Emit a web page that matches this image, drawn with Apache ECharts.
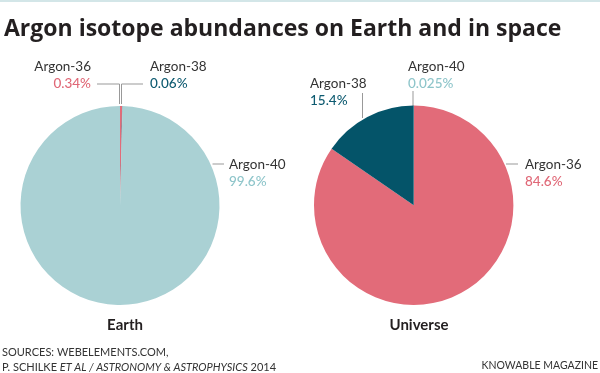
<!DOCTYPE html>
<html><head><meta charset="utf-8">
<script src="https://cdn.jsdelivr.net/npm/echarts@6/dist/echarts.min.js"></script>
<style>html,body{margin:0;padding:0;background:#fff}#c{width:600px;height:373px}</style>
</head><body><div id="c"></div>
<script>
const titleText = 'Argon isotope abundances on Earth and in space';
const pieTitles = ['Earth', 'Universe'];
const earthNames = ['Argon-36', 'Argon-38', 'Argon-40'];
const earthValues = [0.34, 0.06, 99.6];
const earthLabels = ['0.34%', '0.06%', '99.6%'];
const universeNames = ['Argon-40', 'Argon-36', 'Argon-38'];
const universeValues = [0.025, 84.6, 15.4];
const universeLabels = ['0.025%', '84.6%', '15.4%'];
const sourceLines = ['SOURCES: WEBELEMENTS.COM,', 'P. SCHILKE {i|ET AL / ASTRONOMY & ASTROPHYSICS} 2014'];
const creditText = 'KNOWABLE MAGAZINE';

const FONT = 'Lato';
const TFONT = 'Open Sans';
const fill = { 'Argon-36': '#e26b79', 'Argon-38': '#045469', 'Argon-40': '#aad1d4' };
const valColor = { 'Argon-36': '#e06877', 'Argon-38': '#0d5a70', 'Argon-40': '#8ec5ca' };

// label placement (layout only)
const earthLayout = [
  { x: 91, y: 75.5, align: 'right', pts: [[119.5, 104], [119.5, 84], [97, 84]] },
  { x: 150, y: 75.5, align: 'left', pts: [[121.5, 104], [121.5, 84], [143, 84]] },
  { x: 229, y: 173.5, align: 'left', pts: [[212.5, 164], [224, 164]] }
];
const universeLayout = [
  { x: 408, y: 75.5, align: 'left', pts: [[413, 106], [413, 91]] },
  { x: 525, y: 173.5, align: 'left', pts: [[506, 164], [518, 164]] },
  { x: 310, y: 92.5, align: 'left', pts: [[362.5, 118], [362.5, 93]] }
];

function buildData(names, values, labels) {
  return names.map((n, i) => ({
    name: n, value: values[i], pct: labels[i],
    itemStyle: { color: fill[n] },
    label: { rich: { n: { color: '#333', fontSize: 13.5, fontFamily: FONT, lineHeight: 17 },
                     v: { color: valColor[n], fontSize: 13.5, fontFamily: FONT, lineHeight: 17, fontWeight: 500 } } }
  }));
}

function pieSeries(center, r, names, values, labels, layout) {
  const data = buildData(names, values, labels);
  return {
    type: 'pie', center: center, radius: r, startAngle: 90, clockwise: true,
    silent: true, animation: false, minAngle: 0, avoidLabelOverlap: false,
    data: data,
    label: { show: true, formatter: p => '{n|' + p.name + '}\n{v|' + p.data.pct + '}' },
    labelLine: { show: true, lineStyle: { color: '#999', width: 1 } },
    labelLayout: function (p) {
      const L = layout[p.dataIndex];
      return { x: L.x, y: L.y, align: L.align, verticalAlign: 'middle', labelLinePoints: L.pts };
    }
  };
}

const chart = echarts.init(document.getElementById('c'), null, { renderer: 'canvas' });
chart.setOption({
  animation: false,
  backgroundColor: '#fff',
  title: [
    { text: titleText, left: -1, top: 13, textStyle: { fontFamily: TFONT, fontWeight: 'bold', fontSize: 23, color: '#231f20' } },
    { text: pieTitles[0], left: 120, top: 313, textAlign: 'center', textStyle: { fontFamily: FONT, fontWeight: 'bold', fontSize: 15, color: '#231f20' } },
    { text: pieTitles[1], left: 414, top: 313, textAlign: 'center', textStyle: { fontFamily: FONT, fontWeight: 'bold', fontSize: 15, color: '#231f20' } }
  ],
  graphic: [
    { type: 'rect', shape: { x: 0, y: 0, width: 600, height: 2 }, style: { fill: '#d3e6e8' } },
    { type: 'text', left: 2, top: 345, style: { text: sourceLines.join('\n'), font: '11px ' + FONT, fill: '#333', lineHeight: 15,
        rich: { i: { fontStyle: 'italic', fontSize: 11, fontFamily: FONT, fill: '#333' } } } },
    { type: 'text', right: 2, top: 360, style: { text: creditText, font: '10.5px ' + FONT, fill: '#333' } }
  ],
  series: [
    pieSeries([120, 205.5], 99.5, earthNames, earthValues, earthLabels, earthLayout),
    pieSeries([413.7, 205.3], 99.7, universeNames, universeValues, universeLabels, universeLayout)
  ]
});
</script></body></html>
